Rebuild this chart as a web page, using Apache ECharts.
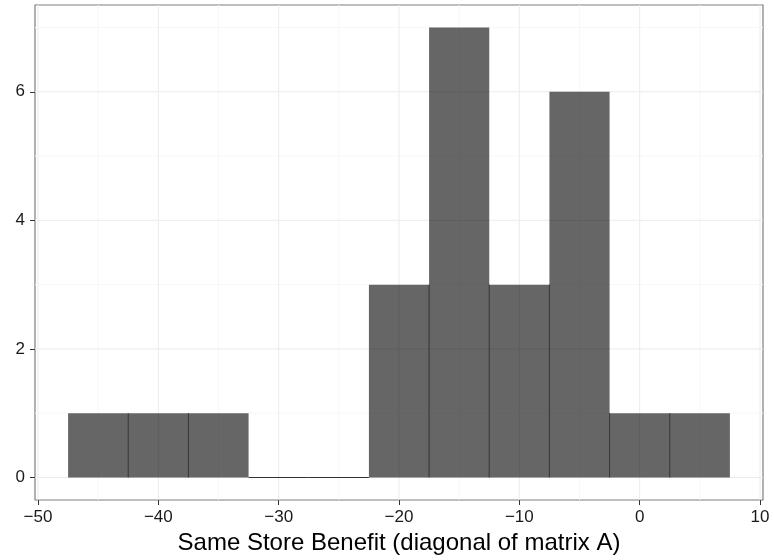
<!DOCTYPE html>
<html>
<head>
<meta charset="utf-8">
<script src="https://cdn.jsdelivr.net/npm/echarts@6/dist/echarts.min.js"></script>
<style>
  html, body { margin: 0; padding: 0; background: #fff; }
  #chart { width: 774px; height: 560px; }
</style>
</head>
<body>
<div id="chart"></div>
<script>
// histogram bins (left edge of each bin, width 5)
const binLeft = [-47.5, -42.5, -37.5, -32.5, -27.5, -22.5, -17.5, -12.5, -7.5, -2.5, 2.5]
const binWidth = 5
const counts = [1, 1, 1, 0, 0, 3, 7, 3, 6, 1, 1]

// tick labels / grid lines
const xMajor = [-50, -40, -30, -20, -10, 0, 10]
const xMinor = [-45, -35, -25, -15, -5, 5]
const yMajor = [0, 2, 4, 6]
const yMinor = [1, 3, 5, 7]

const font = "'Liberation Sans', Arial, sans-serif"
const minus = v => String(v).replace('-', '\u2212')

// grid lines data: [axis, value, major?]
const gridData = []
xMinor.forEach(v => gridData.push(['x', v, 0]))
yMinor.forEach(v => gridData.push(['y', v, 0]))
xMajor.forEach(v => gridData.push(['x', v, 1]))
yMajor.forEach(v => gridData.push(['y', v, 1]))

const myChart = echarts.init(document.getElementById('chart'))

const option = {
  animation: false,
  grid: {
    left: 35,
    right: 11,
    top: 5,
    bottom: 60,
    show: true,
    borderColor: '#7f7f7f',
    borderWidth: 1.2,
    backgroundColor: '#fff'
  },
  xAxis: {
    type: 'value',
    min: -50.25,
    max: 10.25,
    axisLine: { show: false, onZero: false },
    splitLine: { show: false },
    axisTick: {
      show: true,
      customValues: xMajor,
      length: 5,
      lineStyle: { color: '#333', width: 1 }
    },
    axisLabel: {
      customValues: xMajor,
      formatter: minus,
      fontFamily: font,
      fontSize: 17,
      color: '#1a1a1a',
      margin: 9
    },
    name: 'Same Store Benefit (diagonal of matrix A)',
    nameLocation: 'middle',
    nameGap: 30,
    nameTextStyle: { fontFamily: font, fontSize: 24, color: '#000' }
  },
  yAxis: {
    type: 'value',
    min: -0.35,
    max: 7.35,
    axisLine: { show: false, onZero: false },
    splitLine: { show: false },
    axisTick: {
      show: true,
      customValues: yMajor,
      length: 5,
      lineStyle: { color: '#333', width: 1 }
    },
    axisLabel: {
      customValues: yMajor,
      fontFamily: font,
      fontSize: 17,
      color: '#1a1a1a',
      margin: 10
    }
  },
  series: [
    {
      // panel grid lines
      type: 'custom',
      z: 1,
      silent: true,
      clip: true,
      data: gridData,
      renderItem: (params, api) => {
        const cs = params.coordSys
        const axis = gridData[params.dataIndex][0]
        const major = gridData[params.dataIndex][2]
        const v = api.value(1)
        let shape
        if (axis === 'x') {
          const p = api.coord([v, 0])
          shape = { x1: p[0], y1: cs.y, x2: p[0], y2: cs.y + cs.height }
        } else {
          const p = api.coord([0, v])
          shape = { x1: cs.x, y1: p[1], x2: cs.x + cs.width, y2: p[1] }
        }
        return {
          type: 'line',
          shape,
          style: { stroke: major ? '#ebebeb' : '#f7f7f7', lineWidth: 1 }
        }
      }
    },
    {
      // histogram bars
      type: 'custom',
      z: 2,
      data: counts.map((c, i) => [binLeft[i], binLeft[i] + binWidth, c]),
      renderItem: (params, api) => {
        const i = params.dataIndex
        const p0 = api.coord([api.value(0), 0])
        const p1 = api.coord([api.value(1), api.value(2)])
        const children = []
        if (api.value(2) > 0) {
          children.push({
            type: 'rect',
            shape: { x: p0[0], y: p1[1], width: p1[0] - p0[0], height: p0[1] - p1[1] },
            style: { fill: 'rgba(0,0,0,0.6)' }
          })
          // dark seam with the previous bar
          if (i > 0 && counts[i - 1] > 0) {
            const top = api.coord([0, Math.min(counts[i - 1], counts[i])])
            children.push({
              type: 'line',
              shape: { x1: p0[0], y1: top[1], x2: p0[0], y2: p0[1] },
              style: { stroke: '#222', lineWidth: 0.8 }
            })
          }
        } else {
          // empty bin: flat outline on the baseline
          children.push({
            type: 'line',
            shape: { x1: p0[0], y1: p0[1], x2: p1[0], y2: p0[1] },
            style: { stroke: '#333', lineWidth: 1 }
          })
        }
        return { type: 'group', children }
      }
    }
  ]
}

myChart && myChart.setOption(option)
</script>
</body>
</html>
